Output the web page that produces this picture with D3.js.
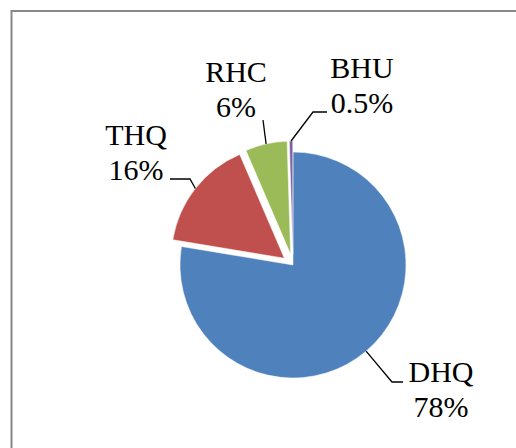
<!DOCTYPE html>
<meta charset="utf-8">
<style>
body, html {
  padding: 0;
  margin: 0;
  background: #fff;
}
.label {
  font: 30px "Liberation Serif", "Times New Roman", serif;
  fill: #000;
}
.leader {
  fill: none;
  stroke: #000;
  stroke-width: 1.3px;
}
</style>
<body>
<script src="https://d3js.org/d3.v7.min.js"></script>
<script>

// data
var categories = ["DHQ", "THQ", "RHC", "BHU"]
var values = [78, 16, 6, 0.5]
var valueLabels = ["78%", "16%", "6%", "0.5%"]

var colors = ["#4F81BD", "#C0504D", "#9BBB59", "#8064A2"]
var explode = [0, 11, 11, 11]

// label placement (Excel manual layout), relative to the pie centre
// t: text anchor (middle, first baseline), leader: elbow points from label towards the slice
var labelLayout = [
  {t: [148, 117], leader: [[110, 117], [99, 117]]},
  {t: [-157, -120], leader: [[-123, -86], [-103, -86]]},
  {t: [-57, -183], leader: [[-30, -145]]},
  {t: [69, -187], leader: [[34, -153], [20, -153]]}
]

var width = 516,
    height = 448,
    cx = 293,
    cy = 265,
    radius = 113,
    lineHeight = 35

var svg = d3.select("body").append("svg")
    .attr("width", width)
    .attr("height", height)

// chart area border (only top and left edges fall inside the picture)
svg.append("path")
    .attr("d", "M11.5," + height + "V11H" + width)
    .attr("fill", "none")
    .attr("stroke", "#888")
    .attr("stroke-width", 2)

var data = categories.map(function (c, i) {
  return {name: c, value: values[i], label: valueLabels[i], i: i}
})

var pie = d3.pie()
    .sort(null)
    .value(function (d) { return d.value })

var arc = d3.arc()
    .innerRadius(0)
    .outerRadius(radius)

var arcs = pie(data)

var g = svg.append("g")
    .attr("transform", "translate(" + cx + "," + cy + ")")

function offset (d) {
  var a = (d.startAngle + d.endAngle) / 2,
      e = explode[d.data.i]
  return [Math.sin(a) * e, -Math.cos(a) * e]
}

g.selectAll("path.slice")
    .data(arcs)
    .enter().append("path")
    .attr("class", "slice")
    .attr("transform", function (d) { return "translate(" + offset(d) + ")" })
    .attr("d", arc)
    .attr("fill", function (d) { return colors[d.data.i] })
    .attr("stroke", "#fff")
    .attr("stroke-width", 0.5)

// leader lines: from the slice's outer edge at its bisector to the label
g.selectAll("path.leader")
    .data(arcs)
    .enter().append("path")
    .attr("class", "leader")
    .attr("d", function (d) {
      var a = (d.startAngle + d.endAngle) / 2,
          o = offset(d),
          p = [o[0] + Math.sin(a) * radius, o[1] - Math.cos(a) * radius]
      var pts = labelLayout[d.data.i].leader.concat([p])
      return d3.line()(pts)
    })

var labels = g.selectAll("text.label")
    .data(arcs)
    .enter().append("text")
    .attr("class", "label")
    .attr("text-anchor", "middle")
    .attr("x", function (d) { return labelLayout[d.data.i].t[0] })
    .attr("y", function (d) { return labelLayout[d.data.i].t[1] })

labels.append("tspan")
    .attr("x", function (d) { return labelLayout[d.data.i].t[0] })
    .text(function (d) { return d.data.name })

labels.append("tspan")
    .attr("x", function (d) { return labelLayout[d.data.i].t[0] })
    .attr("dy", lineHeight)
    .text(function (d) { return d.data.label })

</script>
</body>
